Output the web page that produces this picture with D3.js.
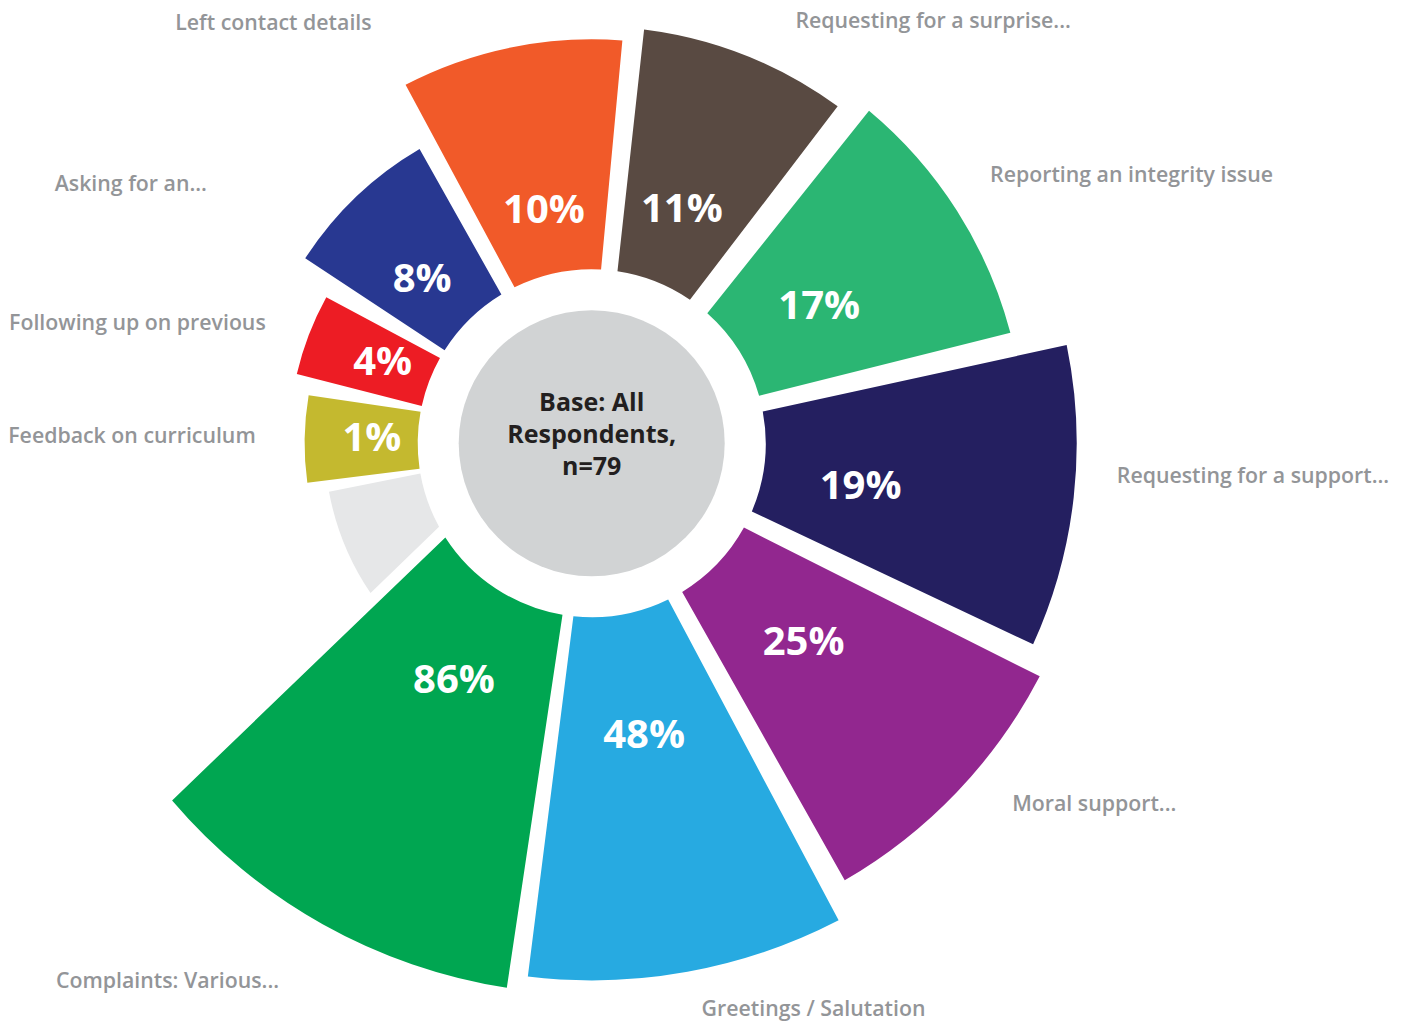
<!DOCTYPE html>
<html>
<head>
<meta charset="utf-8">
<script src="https://cdn.jsdelivr.net/npm/d3@7"></script>
<style>
  html, body { margin: 0; padding: 0; background: #fff; }
  svg { display: block; }
  .cat-label { font-family: "Open Sans", sans-serif; font-weight: 600; font-size: 21.3px; fill: #939598; }
  .pct-label { font-family: "Open Sans", sans-serif; font-weight: 700; font-size: 40px; fill: #fff; }
  .base-label { font-family: "Open Sans", sans-serif; font-weight: 700; font-size: 25px; fill: #231f20; }
</style>
</head>
<body>
<svg id="chart"></svg>
<script>
// slices clockwise, starting at the top
const categories = [
  "Left contact details", "Requesting for a surprise...", "Reporting an integrity issue",
  "Requesting for a support...", "Moral support...", "Greetings / Salutation",
  "Complaints: Various...", "", "Feedback on curriculum", "Following up on previous", "Asking for an..."
];
const percents = [10, 11, 17, 19, 25, 48, 86, null, 1, 4, 8];
// angular share of each slice (degrees of the circle)
const angleShare = [34.6, 32.2, 38.8, 39.2, 35.3, 36.55, 38.15, 34.8, 20.6, 19.4, 30.4];
// radial reach of each slice (index, 0-100)
const radialScore = [61.0, 64.5, 68.7, 82.5, 87.8, 96.3, 100, 24.7, 30.0, 34.2, 44.3];
const baseLines = ["Base: All", "Respondents,", "n=79"];

const COLORS = ["#f15a29", "#594a42", "#2bb673", "#241f60", "#92278f", "#27aae1",
                "#00a651", "#e6e7e8", "#c4b92f", "#ed1c24", "#283891"];

const W = 1407, H = 1022;
const CX = 591.7, CY = 443.3;
const INNER = 174, OUTER = 551, HUB = 133;
const START_DEG = 331.2;
// white gap before slice i: [width at inner radius, width at r = 500]
const GAPS = [[15, 21], [16.5, 22], [22, 29], [16, 26], [18, 26], [16, 24],
              [11, 18.3], [12, 11], [5, 28], [6, 40], [9, 39]];
// boundary before slice 7 runs off-centre (px)
const BOUNDARY_SHIFT = { 7: 40 };
// category label placement: [angle delta deg, px beyond outer edge]
const LABEL_NUDGE = [[-16, 72], [4, 53], [-1.6, 48], [-3, 41], [-3.2, 48], [-0.75, 38],
                     [1, 70], [0, 0], [0.65, 49], [-0.55, 45], [-12.1, 124]];
// percent label placement: [angle delta deg, radius]
const PCT_POS = [[0.1, 241], [-0.8, 253], [0.9, 267], [2.2, 272], [-0.85, 289], [0, 294],
                 [1.2, 272], [0, 0], [1.1, 220], [0.7, 225], [-1.7, 238]];

const rad = d => d * Math.PI / 180;

const rScale = d3.scaleLinear().domain([0, 100]).range([INNER, OUTER]);

const pie = d3.pie()
  .sort(null)
  .value((d, i) => angleShare[i])
  .startAngle(rad(START_DEG))
  .endAngle(rad(START_DEG + 360));

const arcs = pie(categories);

const svg = d3.select("#chart").attr("width", W).attr("height", H);
const g = svg.append("g").attr("transform", `translate(${CX},${CY})`);

const pt = (a, r) => [r * Math.sin(a), -r * Math.cos(a)];

// angle of a slice edge at radius r; side = +1 for a start edge, -1 for an end edge
function edgeAngle(b, a, side, r) {
  const [gIn, gOut] = GAPS[b];
  const k = (gOut - gIn) / (500 - INNER);
  const half = (gIn + k * (r - INNER)) / 2;
  const s = (BOUNDARY_SHIFT[b] || 0) + side * half;
  return a + Math.asin(s / r);
}

function slicePath(i, a0, a1, r0, r1) {
  const b0 = i, b1 = (i + 1) % categories.length;
  const o0 = edgeAngle(b0, a0, 1, r1), o1 = edgeAngle(b1, a1, -1, r1);
  const i0 = edgeAngle(b0, a0, 1, r0), i1 = edgeAngle(b1, a1, -1, r0);
  const p = d3.path();
  p.moveTo(...pt(o0, r1));
  p.arc(0, 0, r1, o0 - Math.PI / 2, o1 - Math.PI / 2, false);
  p.lineTo(...pt(i1, r0));
  p.arc(0, 0, r0, i1 - Math.PI / 2, i0 - Math.PI / 2, true);
  p.closePath();
  return { d: p.toString(), mid: (o0 + o1) / 2 };
}

const slices = arcs.map((a, i) => {
  const r1 = rScale(radialScore[i]);
  const sp = slicePath(i, a.startAngle, a.endAngle, INNER, r1);
  return { i, r1, d: sp.d, mid: sp.mid };
});

g.selectAll("path.slice")
  .data(slices)
  .join("path")
  .attr("class", "slice")
  .attr("d", d => d.d)
  .attr("fill", d => COLORS[d.i]);

g.append("circle").attr("r", HUB).attr("fill", "#d1d3d4");

baseLines.forEach((t, k) => {
  g.append("text")
    .attr("class", "base-label")
    .attr("text-anchor", "middle")
    .attr("dominant-baseline", "central")
    .attr("y", -42 + k * 32)
    .text(t);
});

// percent values inside slices
g.selectAll("text.pct-label")
  .data(slices.filter(d => percents[d.i] != null))
  .join("text")
  .attr("class", "pct-label")
  .attr("text-anchor", "middle")
  .attr("dominant-baseline", "central")
  .each(function (d) {
    const [da, r] = PCT_POS[d.i];
    const [x, y] = pt(d.mid + rad(da), r);
    d3.select(this).attr("x", x).attr("y", y);
  })
  .text(d => percents[d.i] + "%");

// category labels
g.selectAll("text.cat-label")
  .data(slices.filter(d => categories[d.i]))
  .join("text")
  .attr("class", "cat-label")
  .attr("dominant-baseline", "central")
  .each(function (d) {
    const [da, dr] = LABEL_NUDGE[d.i];
    const a = d.mid + rad(da);
    const [x, y] = pt(a, d.r1 + dr);
    d3.select(this)
      .attr("x", x)
      .attr("y", y)
      .attr("text-anchor", Math.sin(a) >= 0 ? "start" : "end");
  })
  .text(d => categories[d.i]);
</script>
</body>
</html>
